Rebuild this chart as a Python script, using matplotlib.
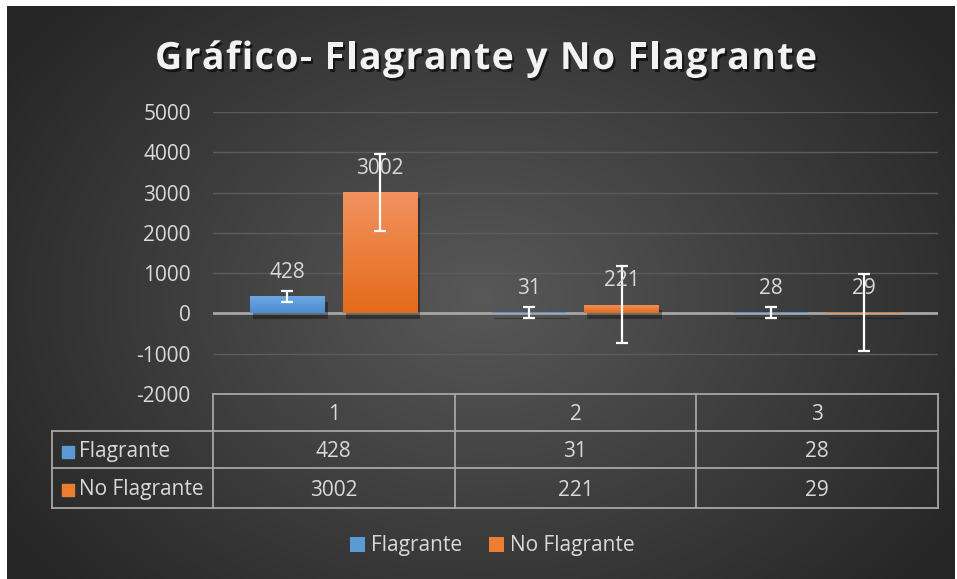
import numpy as np
import matplotlib
matplotlib.use("Agg")
import matplotlib.pyplot as plt
import matplotlib.patheffects as pe
from matplotlib.patches import Patch, Rectangle
from matplotlib.colors import LinearSegmentedColormap
from matplotlib.font_manager import FontProperties, findfont, get_font
import matplotlib.transforms as mtransforms

categories = ["1", "2", "3"]
series_names = ["Flagrante", "No Flagrante"]
flagrante = [428, 31, 28]
no_flagrante = [3002, 221, 29]
err_flagrante = [133, 133, 133]
err_no_flagrante = [961, 961, 961]
yticks = [-2000, -1000, 0, 1000, 2000, 3000, 4000, 5000]
title = "Gráfico- Flagrante y No Flagrante"

plt.rcParams['font.family'] = ['Open Sans', 'DejaVu Sans']
TXT = "#d9d9d9"
W, H = 957, 579
fig = plt.figure(figsize=(W / 100, H / 100), dpi=100, facecolor="white")

# background panel with radial gradient
bg = fig.add_axes([7 / W, 0, (955 - 7) / W, (579 - 6) / H])
bg.set_axis_off()
yy, xx = np.mgrid[0:573, 0:948]
cx, cy, rx, ry = 475, 290, 560, 420
r = np.sqrt(((xx - cx) / rx) ** 2 + ((yy - cy) / ry) ** 2)
r = np.clip(r, 0, 1)
c_center, c_edge = 0x58 / 255, 0x27 / 255
img = c_center + (c_edge - c_center) * r
bg.imshow(np.dstack([img, img, img]), aspect="auto", extent=[0, 1, 0, 1], origin="upper")
bg.set_xlim(0, 1)
bg.set_ylim(0, 1)

ax = fig.add_axes([213 / W, 1 - 394 / H, 725 / W, 282 / H])
ax.patch.set_alpha(0)
for s in ax.spines.values():
    s.set_visible(False)
ax.set_ylim(-2000, 5000)
ax.set_xlim(-0.5, 2.5)
ax.set_yticks(yticks)
ax.set_yticklabels([str(v) for v in yticks])
ax.tick_params(axis="y", length=0, pad=16, labelsize=15, labelcolor=TXT)
ax.set_xticks([])
ax.grid(axis="y", color="#5c5c5c", lw=1.0)
ax.set_axisbelow(True)
ax.axhline(0, color="#a6a6a6", lw=2, zorder=2)

x = np.arange(len(categories))
off, bw = 0.192, 0.31
grads = {
    0: LinearSegmentedColormap.from_list("b", ["#4a8cd3", "#70a9e0"]),
    1: LinearSegmentedColormap.from_list("o", ["#e46b1a", "#f29260"]),
}
solid = ["#5b9bd5", "#ed7d31"]
grad_arr = np.linspace(0, 1, 256).reshape(-1, 1)
for si, (vals, errs) in enumerate([(flagrante, err_flagrante), (no_flagrante, err_no_flagrante)]):
    xs = x + (-off if si == 0 else off)
    bars = ax.bar(xs, vals, width=bw, color=solid[si], zorder=3,
                  path_effects=[pe.SimplePatchShadow(offset=(2, -4), alpha=0.35, shadow_rgbFace="black"), pe.Normal()])
    for b in bars:
        x0, y0 = b.get_x(), b.get_y()
        im = ax.imshow(grad_arr, cmap=grads[si], origin="lower", aspect="auto",
                       extent=[x0, x0 + b.get_width(), y0, y0 + b.get_height()], zorder=3.5)
        im.set_clip_path(b)
    ax.errorbar(xs, vals, yerr=errs, fmt="none", ecolor="white", elinewidth=1.6,
                capsize=4.5, capthick=1.6, zorder=5)
    for xv, v in zip(xs, vals):
        ax.annotate(str(v), (xv, v), xytext=(0, 17), textcoords="offset points",
                    ha="center", va="center", fontsize=15, color=TXT, zorder=6)
ax.set_xlim(-0.5, 2.5)
ax.set_ylim(-2000, 5000)

# data table
tr = mtransforms.blended_transform_factory(ax.transData, ax.transAxes)
ax_h = 282.0
def fy(py):
    return (394 - py) / ax_h
lc, lw = "#a6a6a6", 1.3
xl = -1.166
rows_y = [394, 431, 468, 508]
kw = dict(color=lc, lw=lw, transform=tr, clip_on=False, zorder=4)
ax.plot([-0.5, 2.5], [fy(394)] * 2, **kw)
for py in rows_y[1:]:
    ax.plot([xl, 2.5], [fy(py)] * 2, **kw)
for xv in [-0.5, 0.5, 1.5, 2.5]:
    ax.plot([xv, xv], [fy(394), fy(508)], **kw)
ax.plot([xl, xl], [fy(431), fy(508)], **kw)

for i, c in enumerate(categories):
    ax.text(i, fy(414.5), c, ha="center", va="center", fontsize=15, color=TXT, transform=tr)
for ri, (name, vals) in enumerate(zip(series_names, [flagrante, no_flagrante])):
    ymid = (rows_y[ri + 1] + rows_y[ri + 2]) / 2 + 2
    for i, v in enumerate(vals):
        ax.text(i, fy(ymid), str(v), ha="center", va="center", fontsize=15, color=TXT, transform=tr)
    fig.patches.append(Rectangle((62 / W, 1 - (ymid + 6) / H), 12 / W, 12 / H,
                                 transform=fig.transFigure, color=solid[ri], figure=fig))
    fig.text(79 / W, 1 - ymid / H, name, ha="left", va="center", fontsize=15, color=TXT)

# title with letter spacing
tsize = 27
fp = FontProperties(family="Open Sans", weight="bold", size=tsize)
font = get_font(findfont(fp))
font.set_size(tsize, 100)
advs = []
for ch in title:
    g = font.load_char(ord(ch))
    advs.append(g.linearHoriAdvance / 65536.0)
x_left, x_right = 155.0, 817.0
base = sum(advs)
sp = (x_right - x_left - base) / (len(title) - 1)
cur = x_left
for ch, a in zip(title, advs):
    if ch != " ":
        fig.text((cur + a / 2) / W, 1 - 69 / H, ch, ha="center", va="baseline",
                 fontproperties=fp, color="#f2f2f2",
                 path_effects=[pe.withSimplePatchShadow(offset=(1.5, -2), alpha=0.6, shadow_rgbFace="black")])
    cur += a + sp

# legend
handles = [Patch(facecolor=solid[0]), Patch(facecolor=solid[1])]
fig.legend(handles, series_names, loc="center", bbox_to_anchor=(492 / W, 1 - 546 / H), ncol=2,
           frameon=False, fontsize=15, labelcolor=TXT, handlelength=0.75, handleheight=0.75,
           handletextpad=0.25, columnspacing=1.3)

fig.savefig("out.png", dpi=100, facecolor="white")
